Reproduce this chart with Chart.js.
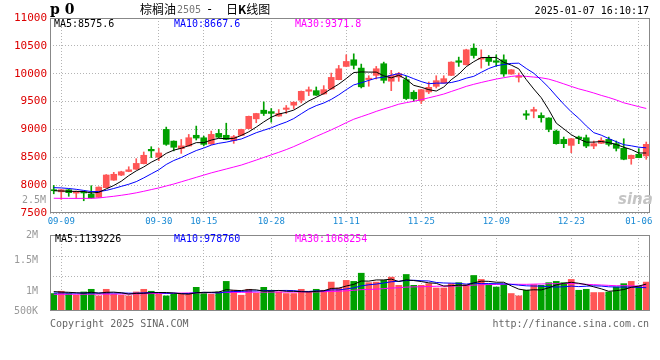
<!DOCTYPE html>
<html>
<head>
<meta charset="utf-8">
<script src="https://cdn.jsdelivr.net/npm/chart.js@4.4.0/dist/chart.umd.min.js"></script>
<style>
body { margin: 0; background: #fff; }
#wrap { position: relative; width: 660px; height: 360px; overflow: hidden; font-family: 'DejaVu Sans Mono', monospace; }
canvas { position: absolute; left: 0; }
.t { position: absolute; white-space: pre; font-size: 10px; line-height: 12px; }
</style>
</head>
<body>
<div id="wrap">
  <canvas id="price" width="660" height="230" style="top:0"></canvas>
  <canvas id="vol" width="660" height="110" style="top:225px"></canvas>

  <div class="t" style="left:50px;top:1px;font-size:14px;line-height:16px;font-weight:bold;font-family:'DejaVu Serif'">p 0</div>
  <div class="t" style="left:140px;top:2px;font-size:12px;line-height:14px;font-family:'Noto Sans CJK SC'">棕榈油</div>
  <div class="t" style="left:177px;top:4px;color:#777">2505</div>
  <div class="t" style="left:206px;top:2px;font-size:12px;line-height:14px">-</div>
  <div class="t" style="left:226px;top:2px;font-size:12px;line-height:14px;font-family:'Noto Sans CJK SC'">日<b>K</b>线图</div>
  <div class="t" style="right:11px;top:5px;color:#000">2025-01-07 16:10:17</div>

  <div class="t" style="left:54px;top:18px;color:#000">MA5:8575.6</div>
  <div class="t" style="left:174px;top:18px;color:#0000ff">MA10:8667.6</div>
  <div class="t" style="left:295px;top:18px;color:#ff00ff">MA30:9371.8</div>
  <div class="t" style="right:614px;top:194px;color:#999">2.5M</div>
  <div class="t" style="left:618px;top:191px;font-size:15px;line-height:16px;font-style:italic;font-weight:bold;font-family:'DejaVu Sans';color:#c4c4c4">sina</div>

  <div class="t" style="left:55px;top:233px;color:#000">MA5:1139226</div>
  <div class="t" style="left:174px;top:233px;color:#0000ff">MA10:978760</div>
  <div class="t" style="left:295px;top:233px;color:#ff00ff">MA30:1068254</div>

  <div class="t" style="left:50px;top:318px;color:#666">Copyright 2025 SINA.COM</div>
  <div class="t" style="right:11px;top:318px;color:#666">http://finance.sina.com.cn</div>
</div>

<script>
// trading days 2024-09-06 .. 2025-01-07
const dates = ['09-06',
  '09-09','09-10','09-11','09-12','09-13','09-18','09-19','09-20',
  '09-23','09-24','09-25','09-26','09-27','09-30',
  '10-08','10-09','10-10','10-11','10-14','10-15','10-16','10-17','10-18',
  '10-21','10-22','10-23','10-24','10-25','10-28','10-29','10-30','10-31','11-01',
  '11-04','11-05','11-06','11-07','11-08','11-11','11-12','11-13','11-14','11-15',
  '11-18','11-19','11-20','11-21','11-22','11-25','11-26','11-27','11-28','11-29',
  '12-02','12-03','12-04','12-05','12-06','12-09','12-10','12-11','12-12','12-13',
  '12-16','12-17','12-18','12-19','12-20','12-23','12-24','12-25','12-26','12-27',
  '12-30','12-31','01-02','01-03','01-06','01-07'];

const shownDates = ['09-09','09-30','10-15','10-28','11-11','11-25','12-09','12-23','01-06'];

const opens = [7912,7880,7917,7857,7880,7840,7780,7955,8090,8180,
  8245,8286,8385,8643,8500,9000,8790,8655,8703,8895,
  8850,8740,8929,8895,8800,8893,9015,9190,9345,9320,
  9240,9360,9435,9524,9685,9696,9637,9726,9893,10131,
  10250,10101,9895,9970,10179,9865,9940,9893,9667,9518,
  9673,9774,9833,9970,10232,10161,10458,10262,10292,10232,
  10250,9994,9935,9280,9327,9250,9205,8970,8821,8714,
  8863,8851,8702,8750,8821,8744,8661,8476,8554,8524];
const highs = [7995,7925,7925,7895,7890,7990,7970,8190,8230,8250,
  8330,8475,8595,8690,8660,9042,8795,8820,8910,9060,
  8880,8970,9000,9112,8893,9005,9240,9290,9494,9375,
  9357,9430,9495,9690,9762,9762,9786,10012,10149,10339,
  10357,10173,9964,10131,10208,10060,10024,9952,9696,9720,
  9851,9964,9964,10215,10298,10440,10536,10429,10327,10339,
  10339,10075,10012,9339,9399,9298,9210,8990,8863,8840,
  8881,8899,8792,8851,8863,8792,8833,8540,8655,8774];
const lows = [7845,7745,7800,7760,7720,7765,7775,7950,8085,8170,
  8240,8280,8380,8495,8440,8714,8615,8570,8700,8810,
  8705,8730,8850,8815,8750,8890,9010,9120,9250,9130,
  9235,9285,9370,9476,9607,9610,9630,9720,9890,10125,
  10085,9744,9775,9905,9833,9696,9863,9536,9506,9464,
  9643,9744,9830,9965,10131,10155,10280,10101,10149,10131,
  9952,9990,9851,9179,9208,9131,8958,8735,8673,8583,
  8744,8673,8655,8745,8702,8613,8455,8375,8490,8464];
const closes = [7900,7918,7865,7888,7860,7770,7965,8182,8195,8240,
  8275,8390,8536,8615,8578,8732,8680,8705,8851,8845,
  8732,8911,8860,8821,8870,9000,9235,9286,9286,9288,
  9286,9385,9488,9684,9712,9615,9714,9934,10089,10220,
  10150,9765,9920,10089,9881,9970,10000,9554,9548,9714,
  9756,9875,9911,10208,10205,10429,10327,10280,10220,10205,
  9995,10071,9950,9255,9357,9210,9000,8744,8744,8833,
  8835,8702,8744,8804,8732,8661,8464,8536,8494,8732];

const ma5 = [7900,7895,7890,7888,7886,7860,7870,7933,7994,8070,
  8171,8256,8327,8411,8479,8570,8628,8662,8709,8763,
  8763,8809,8840,8834,8839,8892,8957,9042,9135,9219,
  9276,9306,9347,9426,9511,9577,9643,9732,9813,9914,
  10021,10032,10029,10029,9961,9925,9972,9899,9791,9757,
  9714,9689,9761,9893,9991,10126,10216,10290,10292,10292,
  10205,10154,10088,9895,9726,9569,9354,9113,9011,8906,
  8831,8772,8772,8784,8763,8729,8681,8639,8577,8577];
const ma10 = [7955,7950,7940,7925,7905,7885,7885,7905,7940,7978,
  8016,8063,8130,8203,8275,8371,8442,8495,8560,8621,
  8666,8719,8751,8772,8801,8828,8883,8941,8985,9029,
  9084,9132,9195,9281,9365,9427,9474,9539,9620,9713,
  9799,9837,9880,9921,9938,9973,10002,9964,9910,9859,
  9820,9831,9830,9842,9874,9920,9953,10025,10093,10142,
  10166,10185,10189,10094,10009,9887,9754,9601,9453,9316,
  9200,9063,8942,8897,8835,8780,8726,8706,8681,8670];
const ma30 = [7765,7763,7762,7762,7762,7763,7770,7785,7800,7818,
  7838,7862,7890,7920,7950,7985,8020,8060,8100,8140,
  8180,8220,8255,8290,8325,8360,8405,8450,8497,8543,
  8589,8638,8692,8752,8813,8875,8933,8992,9055,9121,
  9183,9229,9275,9324,9368,9409,9453,9481,9505,9534,
  9568,9600,9635,9681,9726,9773,9810,9843,9874,9904,
  9928,9951,9966,9952,9940,9927,9903,9863,9818,9772,
  9728,9693,9654,9611,9573,9529,9478,9444,9409,9376];

// volume, thousands of lots
const volumes = [738,834,738,667,805,917,638,917,709,667,
  638,805,917,834,709,638,709,751,751,1001,
  738,709,805,1251,876,667,917,751,1001,876,
  805,738,738,917,834,917,876,1222,972,1293,
  1251,1597,1197,1222,1293,1430,1084,1543,1084,1084,
  1155,972,972,1155,1197,1113,1501,1334,1113,1013,
  1113,738,638,876,1113,1084,1197,1251,1197,1334,
  876,917,780,780,805,1013,1155,1251,1043,1222];
const volMa5 = [820,800,790,770,756,792,753,789,797,770,
  714,747,747,772,781,781,761,728,712,770,
  790,790,801,901,876,862,903,892,842,842,
  870,834,832,815,806,829,856,953,964,1056,
  1123,1267,1262,1312,1312,1348,1245,1314,1287,1245,
  1190,1168,1053,1068,1090,1082,1188,1260,1252,1215,
  1215,1062,923,876,896,890,982,1104,1168,1213,
  1171,1115,1021,937,832,859,907,1001,1053,1137];
const volMa10 = [760,760,758,757,756,758,760,762,763,763,
  753,750,768,785,775,747,754,738,742,775,
  785,776,765,806,823,826,847,847,872,859,
  866,869,862,829,824,849,845,892,890,931,
  976,1062,1108,1138,1184,1235,1256,1288,1299,1279,
  1269,1206,1184,1177,1168,1136,1178,1157,1160,1153,
  1148,1125,1092,1064,1055,1052,1022,1014,1022,1054,
  1030,1048,1063,1053,1022,1015,1011,1011,995,984];
const volMa30 = [705,705,706,707,708,710,712,714,716,718,
  720,725,730,735,740,745,750,755,760,765,
  770,775,778,782,786,789,792,795,797,799,
  801,798,798,807,807,807,815,826,834,855,
  876,902,911,924,944,970,983,1009,1020,1023,
  1037,1046,1051,1048,1059,1074,1093,1112,1116,1121,
  1131,1131,1128,1126,1136,1141,1152,1153,1160,1162,
  1149,1127,1113,1098,1082,1068,1070,1060,1059,1064];

// the volume panel labels do not sit on a regular scale in the original
const volTickValues = [0, 847, 2127, 3211];
const volTickLabels = ['500K', '1M', '1.5M', '2M'];
const volGridValues = [638, 1472, 2306];

const RED = '#ff5656';
const GREEN = '#00a000';
const GRID = '#b4b4b4';

Chart.defaults.font.family = "'DejaVu Sans Mono', monospace";
Chart.defaults.animation = false;

const candleColors = closes.map((c, i) => c >= opens[i] ? RED : GREEN);

const boxPlugin = {
  id: 'box',
  afterDraw(chart) {
    const a = chart.chartArea;
    const c = chart.ctx;
    c.save();
    c.strokeStyle = '#888';
    c.lineWidth = 1;
    c.strokeRect(Math.round(a.left) + 0.5, Math.round(a.top) + 0.5, Math.round(a.width) - 1, Math.round(a.height) - 1);
    c.restore();
  }
};

function dateGrid(ctx) {
  return shownDates.includes(dates[ctx.index]) ? GRID : 'transparent';
}

function maLine(label, data, color) {
  return {
    type: 'line', label: label, data: data,
    borderColor: color, borderWidth: 1, pointRadius: 0, tension: 0, order: 0
  };
}

new Chart(document.getElementById('price'), {
  type: 'bar',
  data: {
    labels: dates,
    datasets: [
      maLine('MA5', ma5, '#000000'),
      maLine('MA10', ma10, '#0000ff'),
      maLine('MA30', ma30, '#ff00ff'),
      {
        label: 'body',
        data: opens.map((o, i) => [o, closes[i]]),
        backgroundColor: candleColors,
        barThickness: 6,
        minBarLength: 1,
        grouped: false,
        order: 1
      },
      {
        label: 'wick',
        data: lows.map((l, i) => [l, highs[i]]),
        backgroundColor: candleColors,
        barThickness: 1,
        grouped: false,
        order: 2
      }
    ]
  },
  options: {
    responsive: false,
    devicePixelRatio: 1,
    layout: { padding: { top: 18, right: 10, left: 0, bottom: 0 } },
    plugins: { legend: { display: false }, tooltip: { enabled: false } },
    scales: {
      x: {
        grid: { offset: false, drawTicks: false, color: dateGrid },
        border: { display: false, dash: [1, 2] },
        ticks: {
          autoSkip: false, maxRotation: 0, minRotation: 0, padding: 3,
          color: '#1a8ad4', font: { size: 9 },
          callback: (v, i) => shownDates.includes(dates[i]) ? dates[i] : ''
        },
        afterFit: (s) => { s.height = 17; }
      },
      y: {
        min: 7500, max: 11000,
        grid: { drawTicks: false, color: GRID },
        border: { display: false, dash: [1, 2] },
        ticks: { stepSize: 500, padding: 3, color: '#dd0000', font: { size: 11 }, callback: (v) => String(v) },
        afterFit: (s) => { s.width = 50; }
      }
    }
  },
  plugins: [boxPlugin]
});

new Chart(document.getElementById('vol'), {
  type: 'bar',
  data: {
    labels: dates,
    datasets: [
      maLine('MA5', volMa5, '#000000'),
      maLine('MA10', volMa10, '#0000ff'),
      maLine('MA30', volMa30, '#ff00ff'),
      {
        label: 'volume',
        data: volumes,
        backgroundColor: candleColors,
        barThickness: 6,
        grouped: false,
        order: 1
      }
    ]
  },
  options: {
    responsive: false,
    devicePixelRatio: 1,
    layout: { padding: { top: 9, right: 10, left: 0, bottom: 0 } },
    plugins: { legend: { display: false }, tooltip: { enabled: false } },
    scales: {
      x: {
        grid: { offset: false, drawTicks: false, color: dateGrid },
        border: { display: false, dash: [1, 2] },
        ticks: { display: false },
        afterFit: (s) => { s.height = 24; }
      },
      y: {
        min: 0, max: 3211,
        grid: { display: false },
        border: { display: false },
        afterBuildTicks: (s) => { s.ticks = volTickValues.map(v => ({ value: v })); },
        ticks: {
          padding: 4, color: '#999', font: { size: 10 },
          callback: (v) => volTickLabels[volTickValues.indexOf(v)]
        },
        afterFit: (s) => { s.width = 50; }
      },
      yg: {
        position: 'right',
        min: 0, max: 3211,
        grid: { drawTicks: false, color: GRID },
        border: { display: false, dash: [1, 2] },
        afterBuildTicks: (s) => { s.ticks = volGridValues.map(v => ({ value: v })); },
        ticks: { display: false },
        afterFit: (s) => { s.width = 0; }
      }
    }
  },
  plugins: [boxPlugin]
});
</script>
</body>
</html>
